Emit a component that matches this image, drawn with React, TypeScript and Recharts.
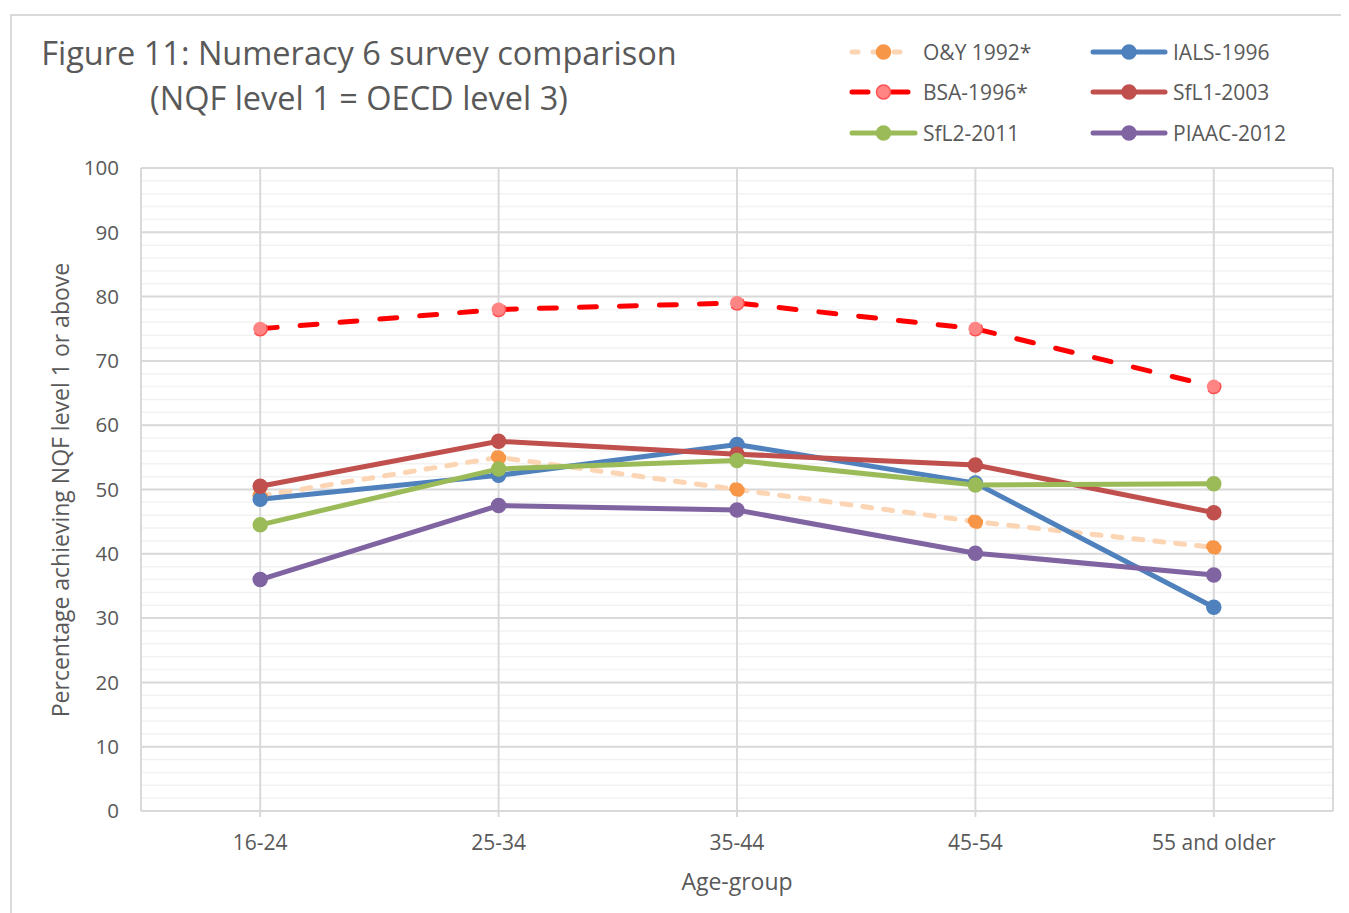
import { LineChart, Line, XAxis, YAxis, CartesianGrid } from 'recharts'

const AGE_GROUPS = ['16-24', '25-34', '35-44', '45-54', '55 and older']

const OY_1992 = [49, 55, 50, 45, 41]
const BSA_1996 = [75, 78, 79, 75, 66]
const IALS_1996 = [48.5, 52.2, 57, 51, 31.7]
const SFL1_2003 = [50.5, 57.5, 55.5, 53.8, 46.4]
const SFL2_2011 = [44.5, 53.2, 54.5, 50.7, 50.9]
const PIAAC_2012 = [36, 47.5, 46.8, 40.1, 36.7]

const Y_TICKS = [0, 10, 20, 30, 40, 50, 60, 70, 80, 90, 100]
const MINOR_TICKS = Array.from({ length: 51 }, (_, i) => i * 2)

const FONT = '"Open Sans", "Noto Sans", sans-serif'
const TEXT = '#595959'

const series = [
  { key: 'oy', name: 'O&Y 1992*', values: OY_1992, color: '#fcd5b5', dot: '#f79646', dotStroke: '#f79646', dash: '9 12', legendDash: '6 15' },
  { key: 'bsa', name: 'BSA-1996*', values: BSA_1996, color: '#ff0000', dot: '#ff8585', dotStroke: '#ff5050', dash: '17 23', legendDash: '16 24' },
  { key: 'ials', name: 'IALS-1996', values: IALS_1996, color: '#4f81bd', dot: '#4f81bd', dotStroke: '#4f81bd' },
  { key: 'sfl1', name: 'SfL1-2003', values: SFL1_2003, color: '#c0504d', dot: '#c0504d', dotStroke: '#c0504d' },
  { key: 'sfl2', name: 'SfL2-2011', values: SFL2_2011, color: '#9bbb59', dot: '#9bbb59', dotStroke: '#9bbb59' },
  { key: 'piaac', name: 'PIAAC-2012', values: PIAAC_2012, color: '#8064a2', dot: '#8064a2', dotStroke: '#8064a2' },
]

const data = AGE_GROUPS.map((g, i) => {
  const row: Record<string, string | number> = { group: g }
  series.forEach((s) => {
    row[s.key] = s.values[i]
  })
  return row
})

// legend: left column O&Y, BSA, SfL2 ; right column IALS, SfL1, PIAAC (page coords)
const legendLayout = [
  { key: 'oy', x: 848, y: 52, len: 63 },
  { key: 'ials', x: 1089, y: 52, len: 72 },
  { key: 'bsa', x: 848, y: 92, len: 63 },
  { key: 'sfl1', x: 1089, y: 92, len: 72 },
  { key: 'sfl2', x: 848, y: 133, len: 63 },
  { key: 'piaac', x: 1089, y: 133, len: 72 },
]

function LegendItem({ s, x, y, len }: { s: (typeof series)[number]; x: number; y: number; len: number }) {
  return (
    <div style={{ position: 'absolute', left: x - 8, top: y - 8 - 14, display: 'flex', alignItems: 'center', height: 28 }}>
      <svg width={len + 8} height={20}>
        <line
          x1={4}
          y1={10}
          x2={len + 4}
          y2={10}
          stroke={s.color}
          strokeWidth={5}
          strokeLinecap="round"
          strokeDasharray={s.legendDash}
        />
        <circle cx={4 + len / 2} cy={10} r={7} fill={s.dot} stroke={s.dotStroke} strokeWidth={1.5} />
      </svg>
      <span style={{ fontFamily: FONT, fontSize: 21, color: TEXT, marginLeft: 4 }}>{s.name}</span>
    </div>
  )
}

export default function App() {
  return (
    <div style={{ position: 'relative', width: 1341, height: 905, overflow: 'visible' }}>
      <div
        style={{
          position: 'absolute',
          left: 2,
          top: 6,
          width: 1345,
          height: 910,
          border: '2px solid #d9d9d9',
          boxSizing: 'border-box',
        }}
      />
      <div
        style={{
          position: 'absolute',
          left: 0,
          top: 22,
          width: 702,
          textAlign: 'center',
          fontFamily: FONT,
          fontSize: 32.5,
          lineHeight: '45px',
          color: TEXT,
          whiteSpace: 'nowrap',
        }}
      >
        Figure 11: Numeracy 6 survey comparison
        <br />
        (NQF level 1 = OECD level 3)
      </div>
      {legendLayout.map((l) => (
        <LegendItem key={l.key} s={series.find((s) => s.key === l.key)!} x={l.x} y={l.y} len={l.len} />
      ))}
      <div
        style={{
          position: 'absolute',
          left: 52 - 300,
          top: 482 - 15,
          width: 600,
          height: 30,
          lineHeight: '30px',
          textAlign: 'center',
          transform: 'rotate(-90deg)',
          fontFamily: FONT,
          fontSize: 23,
          color: TEXT,
          whiteSpace: 'nowrap',
        }}
      >
        Percentage achieving NQF level 1 or above
      </div>
      <div
        style={{
          position: 'absolute',
          left: 133,
          top: 857,
          width: 1192,
          textAlign: 'center',
          fontFamily: FONT,
          fontSize: 23,
          color: TEXT,
        }}
      >
        Age-group
      </div>
      <div style={{ position: 'absolute', left: 0, top: 0 }}>
        <LineChart width={1341} height={905} data={data} margin={{ top: 160, right: 16, bottom: 42, left: 53 }}>
          <CartesianGrid horizontalValues={MINOR_TICKS} vertical={false} stroke="#f2f2f2" strokeWidth={1.5} />
          <CartesianGrid horizontal={true} vertical={true} stroke="#d9d9d9" strokeWidth={2} />
          <XAxis
            dataKey="group"
            scale="band"
            height={60}
            axisLine={{ stroke: '#d9d9d9', strokeWidth: 2 }}
            tickLine={{ stroke: '#d9d9d9', strokeWidth: 2 }}
            tickSize={6}
            tickMargin={18}
            tick={{ fill: TEXT, fontSize: 21, fontFamily: FONT }}
            interval={0}
          />
          <YAxis
            domain={[0, 100]}
            ticks={Y_TICKS}
            width={80}
            axisLine={{ stroke: '#d9d9d9', strokeWidth: 2 }}
            tickLine={false}
            tickSize={0}
            tickMargin={22}
            tick={{ fill: TEXT, fontSize: 20.5, fontFamily: FONT }}
            interval={0}
          />
          <YAxis
            yAxisId="right"
            orientation="right"
            width={0}
            domain={[0, 100]}
            axisLine={{ stroke: '#d9d9d9', strokeWidth: 2 }}
            tick={false}
            tickLine={false}
          />
          {series.map((s) => (
            <Line
              key={s.key}
              dataKey={s.key}
              name={s.name}
              type="linear"
              stroke={s.color}
              strokeWidth={5}
              strokeLinecap="round"
              strokeDasharray={s.dash}
              dot={{ r: 7, fill: s.dot, stroke: s.dotStroke, strokeWidth: 1.5, fillOpacity: 1 }}
              activeDot={false}
              isAnimationActive={false}
            />
          ))}
        </LineChart>
      </div>
    </div>
  )
}
